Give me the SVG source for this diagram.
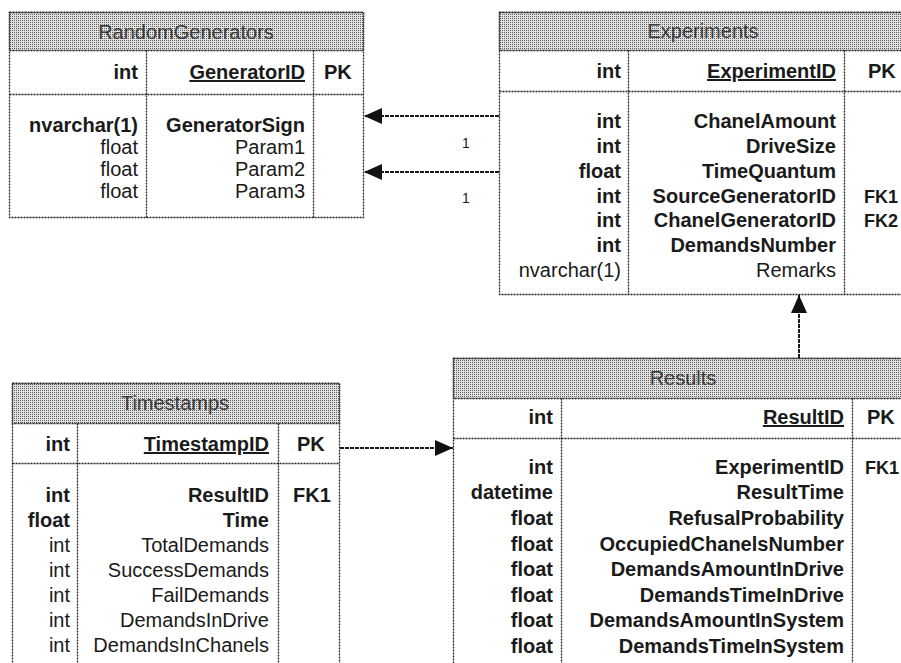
<svg xmlns="http://www.w3.org/2000/svg" width="901" height="663" viewBox="0 0 901 663">
<defs>
<pattern id="dots" width="2" height="2" patternUnits="userSpaceOnUse">
<rect width="2" height="2" fill="#e2e2e2"/>
<rect width="1" height="1" fill="#5e5e5e"/>
</pattern>
<marker id="arr" viewBox="0 0 18 16" refX="18" refY="8" markerWidth="18" markerHeight="16" markerUnits="userSpaceOnUse" orient="auto">
<path d="M0,0 L18,8 L0,16 Z" fill="#111"/>
</marker>
</defs>
<style>
.box{fill:#fff;stroke:#222;stroke-width:1.3;stroke-dasharray:2 1}
.hdr{fill:url(#dots);stroke:#222;stroke-width:1.3;stroke-dasharray:2 1}
.ln{stroke:#222;stroke-width:1.3;stroke-dasharray:2 1;fill:none}
text{font-family:"Liberation Sans",Arial,sans-serif;font-size:20px;fill:#1a1a1a}
.t{fill:#3a3a3a;text-anchor:middle}
.b{font-weight:bold}
.r{text-anchor:end}
.u{text-decoration:underline}
.fk{font-size:18px}
.lbl{font-size:14px}
.con{stroke:#1a1a1a;stroke-width:2;stroke-dasharray:4 1;fill:none;marker-end:url(#arr)}
</style>
<rect width="901" height="663" fill="#fff"/>

<g id="RandomGenerators">
<rect class="box" x="9.5" y="12.5" width="354" height="205"/>
<rect class="hdr" x="9.5" y="12.5" width="354" height="38"/>
<line class="ln" x1="9.5" y1="94.5" x2="363.5" y2="94.5"/>
<line class="ln" x1="146.5" y1="50.5" x2="146.5" y2="217.5"/>
<line class="ln" x1="313.5" y1="50.5" x2="313.5" y2="217.5"/>
<text class="t" x="186" y="39">RandomGenerators</text>
<text class="b r" x="138" y="79">int</text>
<text class="b r u" x="305" y="79">GeneratorID</text>
<text class="b" x="324" y="79">PK</text>
<text class="b r" x="138" y="132">nvarchar(1)</text>
<text class="b r" x="305" y="132">GeneratorSign</text>
<text class="r" x="138" y="154">float</text>
<text class="r" x="305" y="154">Param1</text>
<text class="r" x="138" y="176">float</text>
<text class="r" x="305" y="176">Param2</text>
<text class="r" x="138" y="198">float</text>
<text class="r" x="305" y="198">Param3</text>
</g>

<g id="Experiments">
<rect class="box" x="499.5" y="12.5" width="410" height="282"/>
<rect class="hdr" x="499.5" y="12.5" width="410" height="38"/>
<line class="ln" x1="499.5" y1="91.5" x2="909.5" y2="91.5"/>
<line class="ln" x1="628.5" y1="50.5" x2="628.5" y2="294.5"/>
<line class="ln" x1="844.5" y1="50.5" x2="844.5" y2="294.5"/>
<text class="t" x="703" y="38">Experiments</text>
<text class="b r" x="621" y="78">int</text>
<text class="b r u" x="836" y="78">ExperimentID</text>
<text class="b" x="868" y="78">PK</text>
<text class="b r" x="621" y="128">int</text>
<text class="b r" x="836" y="128">ChanelAmount</text>
<text class="b r" x="621" y="153">int</text>
<text class="b r" x="836" y="153">DriveSize</text>
<text class="b r" x="621" y="178">float</text>
<text class="b r" x="836" y="178">TimeQuantum</text>
<text class="b r" x="621" y="203">int</text>
<text class="b r" x="836" y="203">SourceGeneratorID</text>
<text class="b fk" x="864" y="203">FK1</text>
<text class="b r" x="621" y="227">int</text>
<text class="b r" x="836" y="227">ChanelGeneratorID</text>
<text class="b fk" x="864" y="227">FK2</text>
<text class="b r" x="621" y="252">int</text>
<text class="b r" x="836" y="252">DemandsNumber</text>
<text class="r" x="621" y="277">nvarchar(1)</text>
<text class="r" x="836" y="277">Remarks</text>
</g>

<g id="Timestamps">
<rect class="box" x="12.5" y="383.5" width="327" height="300"/>
<rect class="hdr" x="12.5" y="383.5" width="327" height="40"/>
<line class="ln" x1="12.5" y1="463.5" x2="339.5" y2="463.5"/>
<line class="ln" x1="77.5" y1="423.5" x2="77.5" y2="683.5"/>
<line class="ln" x1="278.5" y1="423.5" x2="278.5" y2="683.5"/>
<text class="t" x="175" y="410">Timestamps</text>
<text class="b r" x="70" y="451">int</text>
<text class="b r u" x="269" y="451">TimestampID</text>
<text class="b" x="297" y="451">PK</text>
<text class="b r" x="70" y="502">int</text>
<text class="b r" x="269" y="502">ResultID</text>
<text class="b" x="293" y="502">FK1</text>
<text class="b r" x="70" y="527">float</text>
<text class="b r" x="269" y="527">Time</text>
<text class="r" x="70" y="552">int</text>
<text class="r" x="269" y="552">TotalDemands</text>
<text class="r" x="70" y="577">int</text>
<text class="r" x="269" y="577">SuccessDemands</text>
<text class="r" x="70" y="602">int</text>
<text class="r" x="269" y="602">FailDemands</text>
<text class="r" x="70" y="627">int</text>
<text class="r" x="269" y="627">DemandsInDrive</text>
<text class="r" x="70" y="652">int</text>
<text class="r" x="269" y="652">DemandsInChanels</text>
</g>

<g id="Results">
<rect class="box" x="453.5" y="358.5" width="460" height="330"/>
<rect class="hdr" x="453.5" y="358.5" width="460" height="40"/>
<line class="ln" x1="453.5" y1="438.5" x2="913.5" y2="438.5"/>
<line class="ln" x1="561.5" y1="398.5" x2="561.5" y2="688.5"/>
<line class="ln" x1="852.5" y1="398.5" x2="852.5" y2="688.5"/>
<text class="t" x="683" y="385">Results</text>
<text class="b r" x="553" y="424">int</text>
<text class="b r u" x="844" y="424">ResultID</text>
<text class="b" x="867" y="424">PK</text>
<text class="b r" x="553" y="474">int</text>
<text class="b r" x="844" y="474">ExperimentID</text>
<text class="b fk" x="865" y="474">FK1</text>
<text class="b r" x="553" y="499">datetime</text>
<text class="b r" x="844" y="499">ResultTime</text>
<text class="b r" x="553" y="525">float</text>
<text class="b r" x="844" y="525">RefusalProbability</text>
<text class="b r" x="553" y="551">float</text>
<text class="b r" x="844" y="551">OccupiedChanelsNumber</text>
<text class="b r" x="553" y="576">float</text>
<text class="b r" x="844" y="576">DemandsAmountInDrive</text>
<text class="b r" x="553" y="602">float</text>
<text class="b r" x="844" y="602">DemandsTimeInDrive</text>
<text class="b r" x="553" y="627">float</text>
<text class="b r" x="844" y="627">DemandsAmountInSystem</text>
<text class="b r" x="553" y="653">float</text>
<text class="b r" x="844" y="653">DemandsTimeInSystem</text>
</g>

<g id="connectors">
<line class="con" x1="499" y1="116" x2="364" y2="116"/>
<line class="con" x1="499" y1="172" x2="364" y2="172"/>
<line class="con" x1="799" y1="358" x2="799" y2="295"/>
<line class="con" x1="340" y1="448" x2="453" y2="448"/>
<text class="lbl" x="462" y="148">1</text>
<text class="lbl" x="462" y="203">1</text>
</g>
</svg>
